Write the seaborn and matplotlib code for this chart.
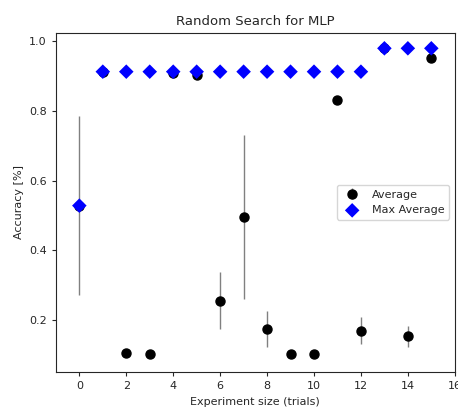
import numpy as np
import pandas as pd
import seaborn as sns
import matplotlib
matplotlib.use("Agg")
import matplotlib.pyplot as plt

# experiment sizes (trials)
trials = [0, 1, 2, 3, 4, 5, 6, 7, 8, 9, 10, 11, 12, 13, 14, 15]
avg_acc = [0.528, 0.912, 0.107, 0.103, 0.908, 0.903, 0.255, 0.495, 0.174,
           0.103, 0.103, 0.831, 0.170, 0.979, 0.153, 0.952]
avg_err = [0.256, 0.0, 0.0, 0.0, 0.0, 0.0, 0.082, 0.236, 0.052,
           0.0, 0.0, 0.0, 0.040, 0.0, 0.031, 0.0]
max_avg = [0.528, 0.912, 0.912, 0.912, 0.912, 0.912, 0.912, 0.912, 0.912,
           0.912, 0.912, 0.912, 0.912, 0.979, 0.979, 0.979]

df = pd.DataFrame({"trials": trials, "avg": avg_acc, "err": avg_err, "max": max_avg})

sns.set_style("ticks")
plt.rcParams['font.family'] = ['DejaVu Sans']

fig = plt.figure(figsize=(4.58, 4.12), dpi=100)
ax = fig.add_axes([0.122, 0.097, 0.871, 0.823])

ax.errorbar(df["trials"], df["avg"], yerr=df["err"], fmt='o', color='black',
            ecolor='gray', elinewidth=1, markersize=6.5, label='Average', zorder=2)
sns.scatterplot(data=df, x="trials", y="max", marker='D', color='blue', s=55,
                edgecolor='none', label='Max Average', ax=ax, zorder=3)

ax.set_xlim(-1, 16)
ax.set_ylim(0.051, 1.023)
ax.set_xticks(range(0, 17, 2))
ax.set_yticks([0.2, 0.4, 0.6, 0.8, 1.0])
ax.tick_params(labelsize=8, length=3)
ax.set_title("Random Search for MLP", fontsize=9.5)
ax.set_xlabel("Experiment size (trials)", fontsize=8)
ax.set_ylabel("Accuracy [%]", fontsize=8)

handles, labels = ax.get_legend_handles_labels()
order = [labels.index('Average'), labels.index('Max Average')]
ax.legend([handles[i] for i in order], [labels[i] for i in order],
          loc='center right', fontsize=8)

fig.savefig("out.png", dpi=100)
